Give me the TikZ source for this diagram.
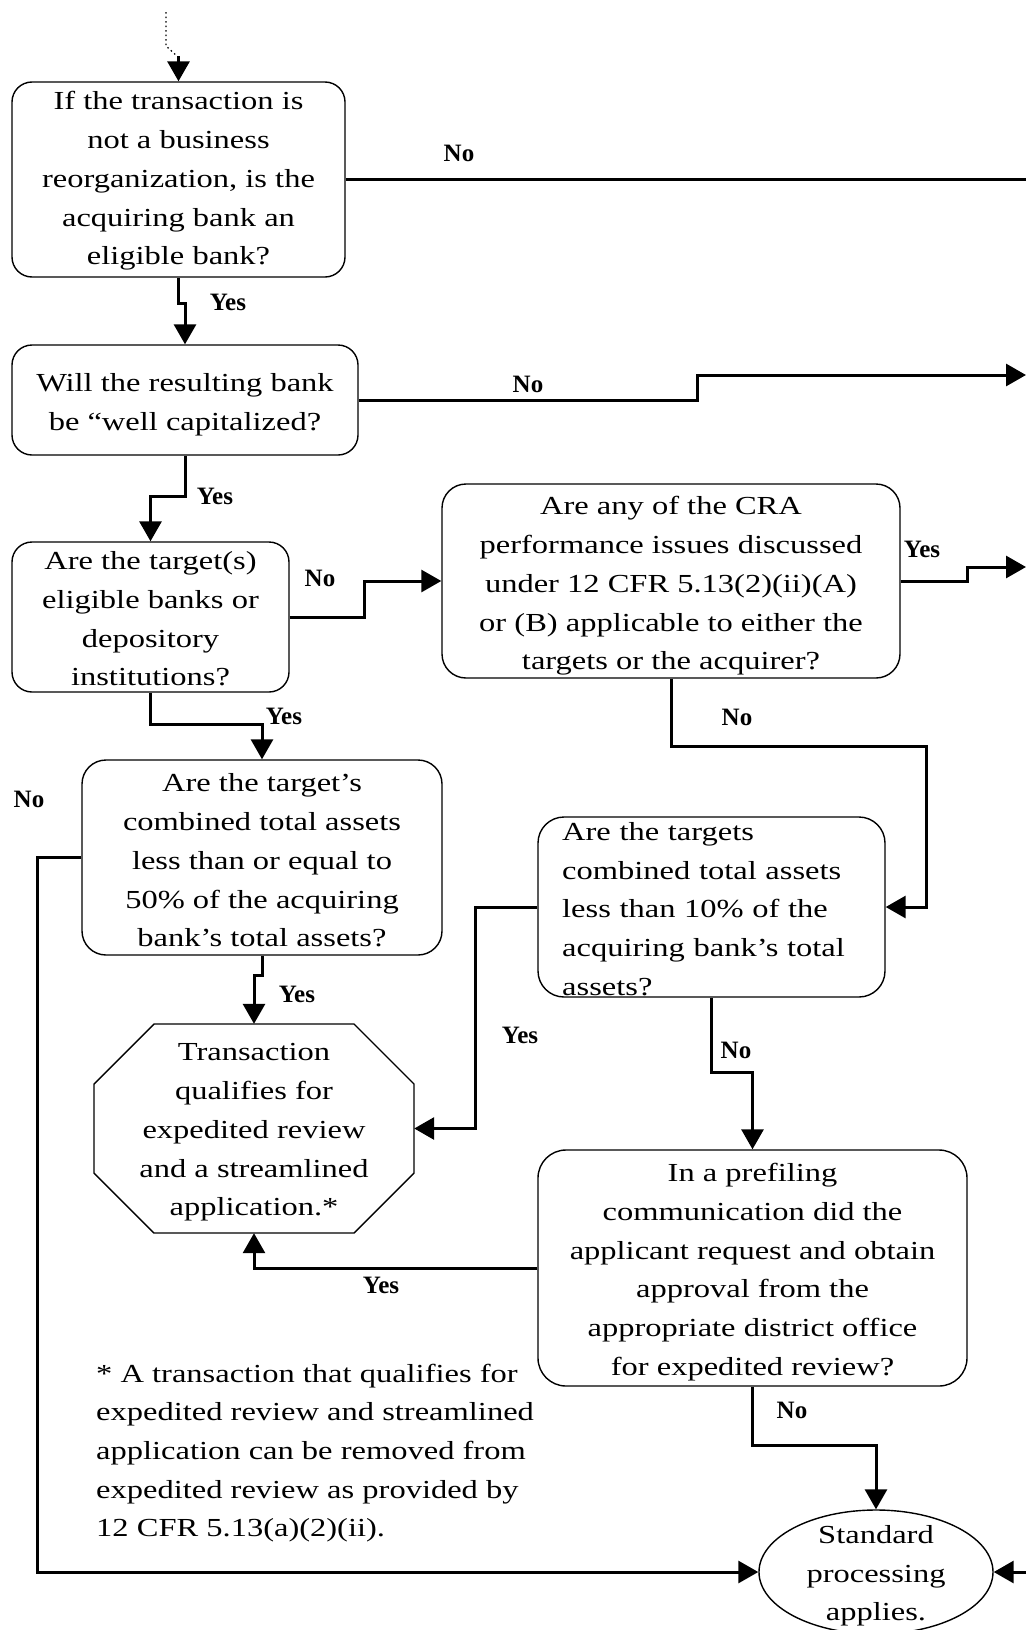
\documentclass[tikz,border=0pt]{standalone}
\usepackage{fontspec}
\setmainfont{Liberation Serif}[FakeStretch=1.25]
\newfontfamily\lblfont{Liberation Serif}
\usetikzlibrary{arrows.meta,shapes.geometric,calc}
\tikzset{
  boxline/.style={draw=black, line width=1.4pt},
  qbox/.style={boxline, rectangle, rounded corners=20pt, inner sep=0pt},
  plainbox/.style={rectangle, inner sep=0pt},
  txt/.style={inner sep=0pt, align=center, font=\fontsize{26pt}{38.7pt}\selectfont},
  conn/.style={line width=3pt, line join=miter},
  arr/.style={conn, -{Triangle[length=20pt,width=22pt]}},
  lbl/.style={inner sep=0pt, font=\lblfont\bfseries\fontsize{25pt}{30pt}\selectfont},
}
\begin{document}
\begin{tikzpicture}[x=1pt,y=-1pt]
\fill[white] (0,0) rectangle (1026,1630);
\useasboundingbox (0,0) rectangle (1026,1630);

% coordinates on the right edge and the entry
\coordinate (R) at (1026,0);
\coordinate (e2) at (1026,375);
\coordinate (e3) at (1026,567);
\coordinate (e4) at (1026,1572);
\coordinate (top) at (166,12);
\coordinate (entry) at (178.5,56);

% shapes
\node[qbox, minimum width=333pt, minimum height=195pt] (b1) at (178.5,179.5) {};
\node[qbox, minimum width=346pt, minimum height=110pt] (b2) at (185,400) {};
\node[qbox, minimum width=277pt, minimum height=150pt] (b3) at (150.5,617) {};
\node[qbox, rounded corners=24pt, minimum width=458pt, minimum height=194pt] (cra) at (671,581) {};
\node[qbox, rounded corners=24pt, minimum width=360pt, minimum height=195pt] (b4) at (262,857.5) {};
\node[qbox, rounded corners=26pt, minimum width=347pt, minimum height=180pt] (b5) at (711.5,907) {};
\node[plainbox, minimum width=320pt, minimum height=209pt] (oct) at (254,1128.5) {};
\draw[boxline] ($(oct)+(-100,-104.5)$) -- ($(oct)+(100,-104.5)$) -- ($(oct)+(160,-44.5)$)
  -- ($(oct)+(160,44.5)$) -- ($(oct)+(100,104.5)$) -- ($(oct)+(-100,104.5)$)
  -- ($(oct)+(-160,44.5)$) -- ($(oct)+(-160,-44.5)$) -- cycle;
\node[qbox, rounded corners=28pt, minimum width=429pt, minimum height=236pt] (pf) at (752.5,1268) {};
\node[boxline, ellipse, inner sep=0pt, minimum width=234pt, minimum height=124pt] (sp) at (876,1572) {};

% texts
\node[txt] (b1t) at ($(b1)+(0,1.5)$)
  {If the transaction is\\ not a business\\ reorganization, is the\\ acquiring bank an\\ eligible bank?};
\node[txt] (b2t) at ($(b2)+(0,5)$)
  {Will the resulting bank\\ be “well capitalized?};
\node[txt] (b3t) at ($(b3)+(0,2)$)
  {Are the target(s)\\ eligible banks or\\ depository\\ institutions?};
\node[txt] (crat) at ($(cra)+(0,5)$)
  {Are any of the CRA\\ performance issues discussed\\ under 12 CFR 5.13(2)(ii)(A)\\ or (B) applicable to either the\\ targets or the acquirer?};
\node[txt] (b4t) at ($(b4)+(0,3)$)
  {Are the target’s\\ combined total assets\\ less than or equal to\\ 50\% of the acquiring\\ bank’s total assets?};
\node[txt, align=left, text width=300pt, anchor=west] (b5t) at (562,909)
  {Are the targets\\ combined total assets\\ less than 10\% of the\\ acquiring bank’s total\\ assets?};
\node[txt] (octt) at ($(oct)+(0,4)$)
  {Transaction\\ qualifies for\\ expedited review\\ and a streamlined\\ application.*};
\node[txt] (pft) at ($(pf)+(0,4)$)
  {In a prefiling\\ communication did the\\ applicant request and obtain\\ approval from the\\ appropriate district office\\ for expedited review?};
\node[txt] (spt) at ($(sp)+(0,4)$) {Standard\\ processing\\ applies.};
\node[txt, align=left, anchor=west] (fn) at (96,1453)
  {* A transaction that qualifies for\\ expedited review and streamlined\\ application can be removed from\\ expedited review as provided by\\ 12 CFR 5.13(a)(2)(ii).};

% entry
\draw[line width=1.3pt, dash pattern=on 1.5pt off 3pt] (top) -- (166,46) -- (177,56);
\draw[arr] (entry) -- (b1.north);

% connectors
\draw[conn] (b1.east) -- (b1.east -| R);
\draw[arr] (b1.south) -- ++(0,26) -| (b2.north);
\draw[arr] (b2.east) -- (697,400) |- (e2);
\draw[arr] (b2.south) -- ++(0,41) -| (b3.north);
\draw[arr] (b3.east) -- (364,617) |- (cra.west);
\draw[arr] (b3.south) -- ++(0,32) -| (b4.north);
\draw[arr] (cra.east) -- (967,581) |- (e3);
\draw[arr] (cra.south) -- ++(0,68) -| ($(b5.east)+(41,0)$) -- (b5.east);
\draw[arr] (b4.south) -- ++(0,20) -| (oct.north);
\draw[arr] (b4.west) -- ++(-44,0) |- (sp.west);
\draw[arr] (b5.west) -- ++(-62,0) |- (oct.east);
\draw[arr] (b5.south) -- ++(0,75) -| (pf.north);
\draw[arr] (pf.west) -| (oct.south);
\draw[arr] (pf.south) -- ++(0,59) -| (sp.north);
\draw[arr] (e4) -- (sp.east);

% labels
\node[lbl] (l1) at (459,153) {No};
\node[lbl] (l2) at (228,302) {Yes};
\node[lbl] (l3) at (528,384) {No};
\node[lbl] (l4) at (215,496) {Yes};
\node[lbl] (l5) at (320,578) {No};
\node[lbl] (l6) at (922,549) {Yes};
\node[lbl] (l7) at (284,716) {Yes};
\node[lbl] (l8) at (737,717) {No};
\node[lbl] (l9) at (29,799) {No};
\node[lbl] (l10) at (297,994) {Yes};
\node[lbl] (l11) at (520,1035) {Yes};
\node[lbl] (l12) at (736,1050) {No};
\node[lbl] (l13) at (381,1285) {Yes};
\node[lbl] (l14) at (792,1410) {No};
\end{tikzpicture}
\end{document}
